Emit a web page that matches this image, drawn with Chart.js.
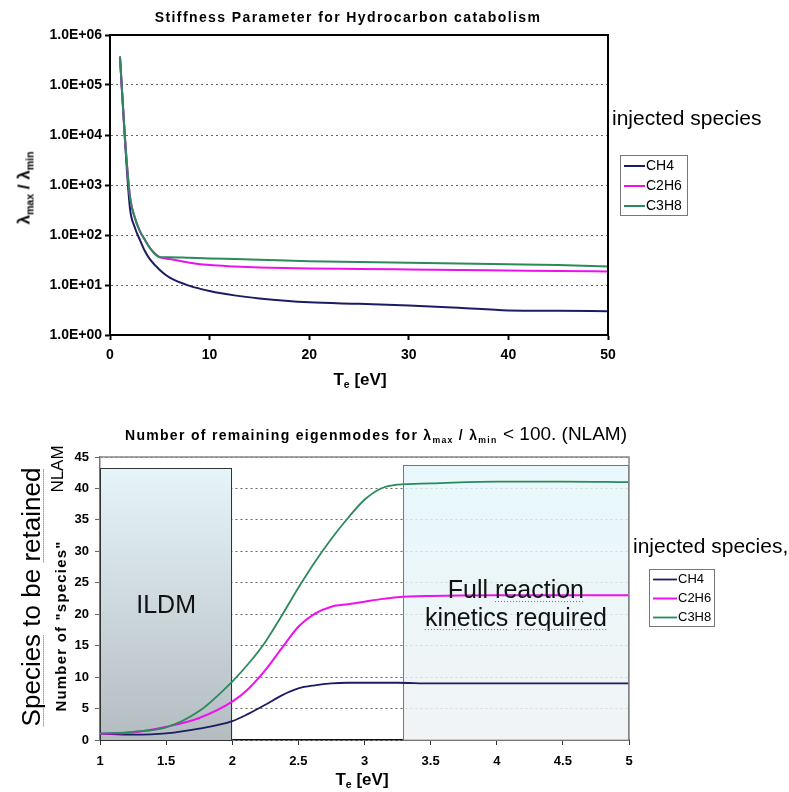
<!DOCTYPE html>
<html>
<head>
<meta charset="utf-8">
<script src="https://cdn.jsdelivr.net/npm/chart.js@4/dist/chart.umd.min.js"></script>
<style>
  html, body { margin: 0; padding: 0; background: #fff; }
  body { width: 789px; height: 792px; position: relative; overflow: hidden; font-family: "Liberation Sans", Arial, sans-serif; color: #000; }
  canvas { position: absolute; left: 0; }
  #top { top: 0; }
  #bottom { top: 400px; }
  .t { position: absolute; white-space: nowrap; line-height: 1; }
  .c { transform: translate(-50%, -50%); }
  .r { transform: translate(-50%, -50%) rotate(-90deg); }
  sub { font-size: 0.62em; vertical-align: -0.35em; line-height: 0; }
  .sq { text-decoration: underline dotted #d04040; text-decoration-thickness: 1px; text-underline-offset: 3px; }
</style>
</head>
<body>
<canvas id="top" width="789" height="400"></canvas>
<canvas id="bottom" width="789" height="392"></canvas>

<div class="t c" style="left:348px; top:17px; font-weight:bold; font-size:14px; letter-spacing:1.4px;">Stiffness Parameter for Hydrocarbon catabolism</div>
<div class="t r" style="left:24px; top:188px; font-weight:bold; font-size:17px;">λ<sub>max</sub> / λ<sub>min</sub></div>
<div class="t c" style="left:360px; top:379px; font-weight:bold; font-size:17px;">T<sub>e</sub> [eV]</div>
<div class="t" style="left:612px; top:107px; font-size:21px;">injected species</div>

<div class="t" style="left:125px; top:424px; line-height:20px;"><span style="font-weight:bold; font-size:14px; letter-spacing:1.3px;">Number of remaining eigenmodes for λ<sub>max</sub> / λ<sub>min</sub></span><span style="font-size:19px;"> &lt; 100. (NLAM)</span></div>
<div class="t r" style="left:57px; top:469px; font-size:17px;">NLAM</div>
<div class="t r" style="left:60px; top:626px; font-weight:bold; font-size:15px; letter-spacing:1.2px;">Number of "species"</div>
<div class="t r" style="left:31px; top:597px; font-size:26px;"><span class="sq">Species</span> to be <span class="sq">retained</span></div>
<div class="t c" style="left:362px; top:779px; font-weight:bold; font-size:17px;">T<sub>e</sub> [eV]</div>
<div class="t" style="left:633px; top:535px; font-size:21px;">injected species,</div>

<script>
// ---- top chart: stiffness ratio lambda_max / lambda_min vs Te ----
const teTop = [1, 1.5, 2, 2.5, 3, 3.5, 4, 5, 6, 8, 10, 12.5, 15, 20, 25, 30, 35, 40, 45, 50];
const ch4Top = [370000, 8000, 350, 140, 80, 48, 33, 20, 14, 9.6, 7.6, 6.2, 5.4, 4.5, 4.2, 3.9, 3.5, 3.1, 3.05, 3.0];
const c2h6Top = [370000, 9000, 600, 220, 120, 80, 55, 36, 33, 28, 25, 23.5, 22.5, 21.5, 21, 20.5, 20, 19.5, 19, 18.7];
const c3h8Top = [370000, 9000, 600, 220, 120, 80, 55, 36, 36, 35, 34, 33, 32, 30, 29, 28, 27, 26, 25, 23.5];
const xTicksTop = [0, 10, 20, 30, 40, 50];
const yTicksTop = [1, 10, 100, 1000, 10000, 100000, 1000000];
const yTickLabelsTop = ['1.0E+00', '1.0E+01', '1.0E+02', '1.0E+03', '1.0E+04', '1.0E+05', '1.0E+06'];

// ---- bottom chart: number of remaining eigenmodes (NLAM) vs Te ----
const teBot = [1, 1.25, 1.5, 1.75, 2, 2.125, 2.25, 2.375, 2.5, 2.625, 2.75, 2.875, 3, 3.125, 3.25, 3.5, 4, 4.5, 5];
const ch4Bot = [1.0, 0.85, 1.05, 1.8, 3.0, 4.2, 5.6, 7.1, 8.2, 8.7, 9.0, 9.1, 9.1, 9.1, 9.1, 9.0, 9.0, 9.0, 9.0];
const c2h6Bot = [1.0, 1.2, 2.1, 3.5, 6.1, 8.2, 11.1, 14.6, 18.0, 20.1, 21.2, 21.6, 22.0, 22.4, 22.7, 22.9, 23.0, 23.0, 23.0];
const c3h8Bot = [1.0, 1.3, 2.0, 4.6, 9.3, 12.2, 15.6, 19.8, 24.2, 28.3, 32.0, 35.3, 38.2, 40.0, 40.6, 40.8, 41.1, 41.1, 41.0];
const xTicksBot = [1, 1.5, 2, 2.5, 3, 3.5, 4, 4.5, 5];
const yTicksBot = [0, 5, 10, 15, 20, 25, 30, 35, 40, 45];
// shaded regions: [from Te, to Te, top value]
const ildmRegion = [1, 2, 43.2];
const fullRegion = [3.29, 5, 43.7];
const ildmLabel = ['ILDM'];
const fullLabel = ['Full reaction', 'kinetics required'];

const seriesNames = ['CH4', 'C2H6', 'C3H8'];
const colors = ['#1c1c64', '#ee11ee', '#2a8a5c'];
const FONT = '"Liberation Sans", Arial, sans-serif';

Chart.defaults.font.family = FONT;
Chart.defaults.color = '#000';

const pts = (xs, ys) => xs.map((x, i) => ({ x: x, y: ys[i] }));
const tickFont = { family: FONT, size: 13, weight: 'bold' };

const framePlugin = {
  id: 'frame',
  afterDatasetsDraw(chart, args, o) {
    const { ctx, chartArea: a } = chart;
    ctx.save();
    ctx.strokeStyle = o.color;
    ctx.lineWidth = o.width;
    ctx.beginPath();
    if (o.all) {
      ctx.rect(a.left, a.top, a.right - a.left, a.bottom - a.top);
    } else {
      ctx.moveTo(a.left, a.top);
      ctx.lineTo(a.right, a.top);
      ctx.lineTo(a.right, a.bottom);
    }
    ctx.stroke();
    ctx.restore();
  }
};

const boxLegend = {
  id: 'boxLegend',
  afterDraw(chart, args, o) {
    const ctx = chart.ctx;
    ctx.save();
    ctx.fillStyle = '#fff';
    ctx.fillRect(o.x, o.y, o.w, o.h);
    ctx.strokeStyle = '#777';
    ctx.lineWidth = 1;
    ctx.strokeRect(o.x + 0.5, o.y + 0.5, o.w, o.h);
    ctx.font = o.font;
    ctx.textBaseline = 'middle';
    chart.data.datasets.forEach((ds, i) => {
      const yy = o.y + o.rowH * (i + 0.5) + 1;
      ctx.strokeStyle = ds.borderColor;
      ctx.lineWidth = ds.borderWidth;
      ctx.beginPath();
      ctx.moveTo(o.x + 4, yy);
      ctx.lineTo(o.x + 4 + o.sample, yy);
      ctx.stroke();
      ctx.fillStyle = '#000';
      ctx.fillText(ds.label, o.x + 5 + o.sample, yy);
    });
    ctx.restore();
  }
};

// dotted red spell-check marks under some words, like in the original slide
function squiggle(ctx, x1, x2, y) {
  ctx.save();
  ctx.strokeStyle = '#d04040';
  ctx.lineWidth = 1;
  ctx.setLineDash([1, 2]);
  ctx.beginPath();
  ctx.moveTo(x1, y);
  ctx.lineTo(x2, y);
  ctx.stroke();
  ctx.restore();
}

const regionPlugin = {
  id: 'regions',
  beforeDatasetsDraw(chart) {
    const { ctx, scales: { x, y } } = chart;
    const drawBox = (r, stops, alpha, border) => {
      const l = x.getPixelForValue(r[0]), rr = x.getPixelForValue(r[1]);
      const t = y.getPixelForValue(r[2]), b = y.getPixelForValue(0);
      const g = ctx.createLinearGradient(0, t, 0, b);
      g.addColorStop(0, stops[0]);
      g.addColorStop(1, stops[1]);
      ctx.save();
      ctx.globalAlpha = alpha;
      ctx.fillStyle = g;
      ctx.fillRect(l, t, rr - l, b - t);
      ctx.globalAlpha = 1;
      ctx.strokeStyle = border;
      ctx.lineWidth = 1;
      ctx.strokeRect(Math.round(l) + 0.5, Math.round(t) + 0.5, Math.round(rr - l) - 1, Math.round(b - t));
      ctx.restore();
    };
    drawBox(ildmRegion, ['#e6f5fa', '#b4bcc0'], 1, '#333');
    drawBox(fullRegion, ['#e2f6fa', '#eef1f3'], 0.82, '#777');
  },
  afterDatasetsDraw(chart) {
    const { ctx, scales: { x, y } } = chart;
    const flagged = ['reaction', 'kinetics', 'required'];
    const label = (r, lines) => {
      const cx = (x.getPixelForValue(r[0]) + x.getPixelForValue(r[1])) / 2;
      const cy = (y.getPixelForValue(r[2]) + y.getPixelForValue(0)) / 2;
      ctx.save();
      ctx.font = '25px ' + FONT;
      ctx.fillStyle = '#111';
      ctx.textAlign = 'left';
      ctx.textBaseline = 'alphabetic';
      lines.forEach((line, i) => {
        const base = cy + 9 + (i - (lines.length - 1) / 2) * 28;
        const w = ctx.measureText(line).width;
        let px = cx - w / 2;
        ctx.fillText(line, px, base);
        line.split(' ').forEach(word => {
          const ww = ctx.measureText(word).width;
          if (flagged.includes(word)) squiggle(ctx, px, px + ww, base + 4);
          px += ww + ctx.measureText(' ').width;
        });
      });
      ctx.restore();
    };
    label(ildmRegion, ildmLabel);
    label(fullRegion, fullLabel);
  }
};

// first series in the legend, last on top of the plot (C3H8 drawn over the others)
const datasets = (ys, widths) => ys.map((data, i) => ({
  label: seriesNames[i],
  data: data,
  order: ys.length - 1 - i,
  borderColor: colors[i],
  backgroundColor: colors[i],
  borderWidth: widths[i],
  pointRadius: 0,
  cubicInterpolationMode: 'monotone',
  fill: false
}));

new Chart(document.getElementById('top'), {
  type: 'line',
  data: { datasets: datasets([pts(teTop, ch4Top), pts(teTop, c2h6Top), pts(teTop, c3h8Top)], [2, 2, 2]) },
  options: {
    responsive: false,
    animation: false,
    layout: { padding: { top: 35, right: 181, bottom: 0, left: 0 } },
    plugins: {
      legend: { display: false },
      tooltip: { enabled: false },
      frame: { color: '#000', width: 2, all: true },
      boxLegend: { x: 620, y: 155, w: 67, h: 60, rowH: 20, sample: 21, font: '14px ' + FONT }
    },
    scales: {
      x: {
        type: 'linear', min: 0, max: 50,
        afterBuildTicks: a => { a.ticks = xTicksTop.map(v => ({ value: v })); },
        afterFit: s => { s.height = 65; },
        grid: { drawOnChartArea: false, tickLength: 5, tickColor: '#000', tickWidth: 2 },
        border: { color: '#000', width: 2 },
        ticks: { font: { family: FONT, size: 14, weight: 'bold' }, color: '#000', padding: 7, maxRotation: 0 }
      },
      y: {
        type: 'logarithmic', min: 1, max: 1000000,
        afterBuildTicks: a => { a.ticks = yTicksTop.map(v => ({ value: v })); },
        afterFit: s => { s.width = 110; },
        grid: { color: '#666', lineWidth: 1, tickLength: 5, tickColor: '#000', tickWidth: 2 },
        border: { color: '#000', width: 2, dash: [2, 3] },
        ticks: { font: { family: FONT, size: 14, weight: 'bold' }, color: '#000', padding: 3, callback: (v, i) => yTickLabelsTop[i] }
      }
    }
  },
  plugins: [framePlugin, boxLegend]
});

new Chart(document.getElementById('bottom'), {
  type: 'line',
  data: { datasets: datasets([pts(teBot, ch4Bot), pts(teBot, c2h6Bot), pts(teBot, c3h8Bot)], [1.8, 2, 1.8]) },
  options: {
    responsive: false,
    animation: false,
    layout: { padding: { top: 57, right: 160, bottom: 0, left: 0 } },
    plugins: {
      legend: { display: false },
      tooltip: { enabled: false },
      frame: { color: '#888', width: 1.5, all: false },
      boxLegend: { x: 649, y: 169, w: 65, h: 57, rowH: 19, sample: 24, font: '13px ' + FONT }
    },
    scales: {
      x: {
        type: 'linear', min: 1, max: 5,
        afterBuildTicks: a => { a.ticks = xTicksBot.map(v => ({ value: v })); },
        afterFit: s => { s.height = 52; },
        grid: { drawOnChartArea: false, tickLength: 5, tickColor: '#333', tickWidth: 1 },
        border: { color: '#111', width: 1.5 },
        ticks: { font: tickFont, color: '#000', padding: 9, maxRotation: 0, callback: (v, i) => String(xTicksBot[i]) }
      },
      y: {
        type: 'linear', min: 0, max: 45,
        afterBuildTicks: a => { a.ticks = yTicksBot.map(v => ({ value: v })); },
        afterFit: s => { s.width = 100; },
        grid: { color: '#666', lineWidth: 1, tickLength: 5, tickColor: '#666', tickWidth: 1 },
        border: { color: '#777', width: 1.5, dash: [2, 3] },
        ticks: { font: tickFont, color: '#000', padding: 6, callback: (v, i) => String(yTicksBot[i]) }
      }
    }
  },
  plugins: [regionPlugin, framePlugin, boxLegend]
});
</script>
</body>
</html>
